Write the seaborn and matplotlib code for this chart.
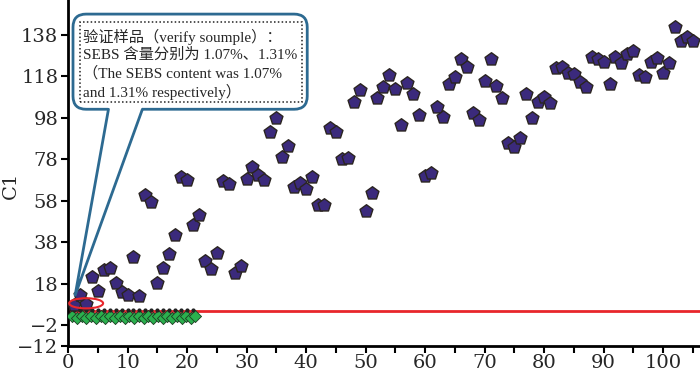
import numpy as np
import pandas as pd
import matplotlib
matplotlib.use("Agg")
import matplotlib.pyplot as plt
import seaborn as sns
from matplotlib.patches import FancyBboxPatch, Rectangle, Ellipse

# C1 values of the samples (one per sample number)
sample_no = list(range(1, 106))
c1_values = [8.0, 12.6, 8.5, 21.3, 14.7, 24.6, 25.4, 18.5, 14.2, 12.6,
             31.1, 12.1, 60.8, 57.6, 18.5, 25.5, 32.4, 41.5, 69.4, 68.0,
             46.3, 51.4, 29.1, 25.2, 32.7, 67.5, 66.2, 23.4, 26.6, 68.5,
             74.5, 70.5, 68.0, 91.4, 97.8, 79.3, 84.5, 64.8, 66.4, 63.5,
             69.6, 56.2, 55.8, 93.0, 91.4, 78.0, 78.5, 105.8, 111.6, 53.2,
             61.8, 107.5, 113.1, 118.7, 111.8, 94.6, 115.0, 109.5, 99.4, 70.0,
             71.3, 103.1, 98.3, 114.4, 117.9, 126.3, 122.4, 100.5, 97.0, 116.0,
             126.3, 113.4, 107.5, 86.0, 84.1, 88.4, 109.5, 97.8, 105.8, 107.9,
             105.4, 121.9, 122.7, 119.8, 119.2, 115.5, 112.8, 127.2, 126.3, 125.1,
             114.4, 127.2, 124.6, 128.8, 130.4, 118.7, 117.6, 125.1, 126.8, 119.8,
             124.6, 141.7, 135.3, 136.9, 135.3]

# green diamonds near zero
green_x = [0.7, 1.5, 2.3, 3.1, 3.9, 4.7, 5.5, 6.3, 7.1, 7.9, 8.7, 9.5, 10.3, 11.1,
           11.9, 12.7, 13.5, 14.3, 15.1, 15.9, 16.7, 17.5, 18.3, 19.1, 19.9, 20.7, 21.4]
green_y = [2.4, 1.6, 2.4, 1.6, 2.4, 1.6, 2.4, 1.6, 2.4, 1.6, 2.4, 1.6, 2.4, 1.6,
           2.4, 1.6, 2.4, 1.6, 2.4, 1.6, 2.4, 1.6, 2.4, 1.6, 2.4, 1.6, 2.4]

# small black dots on the threshold line
dot_x = list(range(1, 22))
dot_y = [5.2] * 21

threshold = 4.8

y_ticks = [-12, -2, 18, 38, 58, 78, 98, 118, 138]
x_ticks = [0, 10, 20, 30, 40, 50, 60, 70, 80, 90, 100]

note_lines = ["验证样品（verify soumple）：",
              "SEBS 含量分别为 1.07%、1.31%",
              "（The SEBS content was 1.07%",
              "and 1.31% respectively）"]

sns.set_style("ticks")
plt.rcParams['font.family'] = ['DejaVu Serif', 'Noto Sans CJK SC']

df = pd.DataFrame({'sample': sample_no, 'C1': c1_values})
gdf = pd.DataFrame({'x': green_x, 'y': green_y})

fig = plt.figure(figsize=(7, 3.71), dpi=100)
ax = fig.add_axes([68 / 700, 25 / 371, 632 / 700, 346 / 371])

ax.axhline(threshold, color='#e8262b', lw=2, zorder=2)
sns.scatterplot(data=gdf, x='x', y='y', marker='D', s=38, color='#2bb04e',
                edgecolor='#1d3a22', linewidth=0.6, ax=ax, zorder=3)
ax.scatter(dot_x, dot_y, s=4, color='#222222', zorder=4)
sns.scatterplot(data=df, x='sample', y='C1', marker='p', s=95, color='#3b2a7c',
                edgecolor='#2a2420', linewidth=1.0, ax=ax, zorder=5)

ax.add_patch(Ellipse((3.05, 8.6), 5.7, 4.9, fill=False, edgecolor='#e8262b',
                     lw=1.5, zorder=6))

# callout box
blue = '#2d6a91'
aspect = 5.95 / 2.073
ax.add_patch(FancyBboxPatch((0.84, 102.2), 40.2 - 0.84, 148.1 - 102.2,
                            boxstyle="round,pad=0,rounding_size=2.2",
                            mutation_aspect=aspect, facecolor='white',
                            edgecolor=blue, lw=2, zorder=7))
ax.plot([6.8, 12.5], [102.2, 102.2], color='white', lw=3, zorder=8,
        solid_capstyle='butt')
ax.plot([6.8, 1.2, 12.5], [102.2, 12.5, 102.2], color=blue, lw=2, zorder=8)
ax.add_patch(Rectangle((2.0, 105.8), 39.3 - 2.0, 144.4 - 105.8, fill=False,
                       edgecolor='#222222', lw=1.1, linestyle=(0, (1, 1.5)),
                       zorder=8))
line_y = [137.2, 128.4, 119.4, 110.6]
for txt, yy in zip(note_lines, line_y):
    ax.text(2.5, yy, txt, fontsize=11, va='center', ha='left', zorder=9,
            family=['Liberation Serif', 'Noto Sans CJK SC'])

ax.set_xlim(0, 106.2)
ax.set_ylim(-12, 154.9)
ax.set_xticks(x_ticks)
ax.set_xticks([5, 15, 25, 35, 45, 55, 65, 75, 85, 95, 105], minor=True)
ax.set_yticks(y_ticks)
ax.tick_params(axis='both', which='both', direction='out', length=5, width=1.5,
               labelsize=14, color='black')
ax.tick_params(axis='x', which='both', pad=1)
ax.tick_params(axis='y', pad=2)
ax.set_xlabel('')
ax.set_ylabel('C1', fontsize=14)
ax.yaxis.set_label_coords(-0.076, 0.465)
sns.despine(ax=ax)
for sp in ['left', 'bottom']:
    ax.spines[sp].set_linewidth(2)
    ax.spines[sp].set_color('black')

fig.savefig('out.png', dpi=100)
